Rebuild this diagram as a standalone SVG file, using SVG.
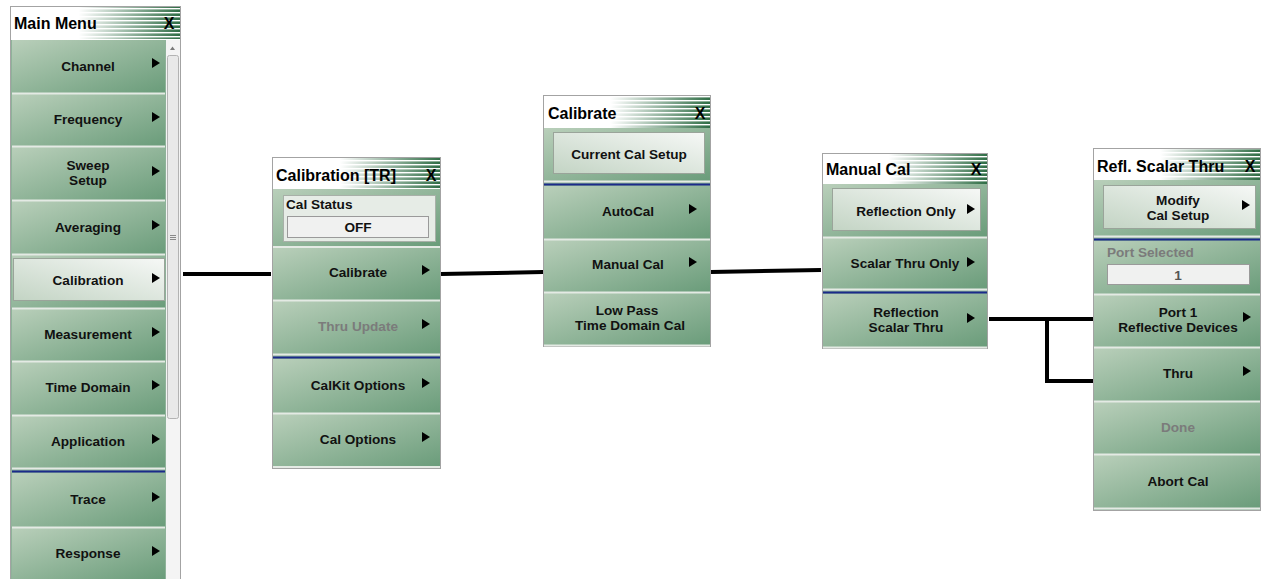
<svg xmlns="http://www.w3.org/2000/svg" xmlns:xlink="http://www.w3.org/1999/xlink" width="1263" height="579" viewBox="0 0 1263 579">
<defs>
<linearGradient id="bg" x1="0" y1="0" x2="1" y2="1">
<stop offset="0" stop-color="#b9cfba"/>
<stop offset="1" stop-color="#6a9c7a"/>
</linearGradient>
<linearGradient id="hl" x1="0" y1="1" x2="1" y2="0">
<stop offset="0" stop-color="#c3d4c4"/>
<stop offset="1" stop-color="#f6f8f6"/>
</linearGradient>
<linearGradient id="hg" x1="0" y1="0" x2="1" y2="0">
<stop offset="0" stop-color="#ffffff"/>
<stop offset="0.4" stop-color="#ffffff"/>
<stop offset="1" stop-color="#2f6d45"/>
</linearGradient>
<pattern id="st" patternUnits="userSpaceOnUse" width="20" height="4">
<rect x="0" y="0" width="20" height="1.4" fill="#ffffff"/>
</pattern>
<path id="arr" d="M0,-5 L8,0 L0,5Z" fill="#000"/>
<style>
.frame{fill:#ffffff;stroke:#a3a3a3;stroke-width:1}
.body{fill:#8fb39a}
.btn{fill:url(#bg)}
.hlb{fill:url(#hl);stroke:#9aa49a;stroke-width:1}
.hdr{fill:url(#hg)}
.hst{fill:url(#st)}
.sep{stroke:#e4eae4;stroke-width:2}
.blue{stroke:#1b2a8a;stroke-width:2}
.t{font-family:"Liberation Sans",Arial,sans-serif;font-weight:bold;font-size:13.6px;fill:#111;text-anchor:middle}
.ts{text-anchor:start}
.dis{fill:#7b7b7b}
.ttl{font-family:"Liberation Sans",Arial,sans-serif;font-weight:bold;font-size:16px;fill:#000}
.x{text-anchor:middle}
.fld{fill:#f0f1f0;stroke:#9a9a9a;stroke-width:1}
.box{fill:#e6ece6;stroke:#a8b0a8;stroke-width:1}
.conn{stroke:#000;stroke-width:4;fill:none}
</style>
</defs>
<rect width="1263" height="579" fill="#ffffff"/>

<g id="connectors">
<path class="conn" d="M183,274 H271"/>
<path class="conn" d="M441,274 L543,272"/>
<path class="conn" d="M711,272 L821,270"/>
<path class="conn" d="M989,319 H1093"/>
<path class="conn" d="M1047,319 V381 H1094"/>
</g>

<g id="main-menu">
<rect class="frame" x="10.5" y="6.5" width="170" height="573"/>
<rect class="hdr" x="11" y="7" width="169" height="32"/>
<rect class="hst" x="11" y="7" width="169" height="32"/>
<text class="ttl" x="14" y="29">Main Menu</text>
<text class="ttl x" x="169" y="29">X</text>
<rect class="body" x="11" y="40" width="155" height="539"/>
<rect class="btn" x="12" y="40" width="153" height="53"/>
<rect class="btn" x="12" y="94" width="153" height="52"/>
<rect class="btn" x="12" y="147" width="153" height="53"/>
<rect class="btn" x="12" y="201" width="153" height="53"/>
<rect class="btn" x="12" y="255" width="153" height="53"/>
<rect class="hlb" x="13.5" y="258.5" width="151" height="42"/>
<rect class="btn" x="12" y="309" width="153" height="52"/>
<rect class="btn" x="12" y="362" width="153" height="53"/>
<rect class="btn" x="12" y="416" width="153" height="52"/>
<rect class="btn" x="12" y="473" width="153" height="54"/>
<rect class="btn" x="12" y="528" width="153" height="51"/>
<g>
<line class="sep" x1="12" y1="93.5" x2="165" y2="93.5"/>
<line class="sep" x1="12" y1="146.5" x2="165" y2="146.5"/>
<line class="sep" x1="12" y1="200.5" x2="165" y2="200.5"/>
<line class="sep" x1="12" y1="254.5" x2="165" y2="254.5"/>
<line class="sep" x1="12" y1="308.5" x2="165" y2="308.5"/>
<line class="sep" x1="12" y1="361.5" x2="165" y2="361.5"/>
<line class="sep" x1="12" y1="415.5" x2="165" y2="415.5"/>
<line class="sep" x1="12" y1="468.5" x2="165" y2="468.5"/>
<line class="blue" x1="12" y1="471.5" x2="165" y2="471.5"/>
<line class="sep" x1="12" y1="527.5" x2="165" y2="527.5"/>
</g>
<text class="t" x="88" y="70.5">Channel</text>
<text class="t" x="88" y="123.5">Frequency</text>
<text class="t" x="88" y="169.5">Sweep</text>
<text class="t" x="88" y="184.5">Setup</text>
<text class="t" x="88" y="231.5">Averaging</text>
<text class="t" x="88" y="284.5">Calibration</text>
<text class="t" x="88" y="338.5">Measurement</text>
<text class="t" x="88" y="391.5">Time Domain</text>
<text class="t" x="88" y="445.5">Application</text>
<text class="t" x="88" y="503.5">Trace</text>
<text class="t" x="88" y="557.5">Response</text>
<use xlink:href="#arr" x="152" y="63"/>
<use xlink:href="#arr" x="152" y="117"/>
<use xlink:href="#arr" x="152" y="171"/>
<use xlink:href="#arr" x="152" y="225"/>
<use xlink:href="#arr" x="152" y="278"/>
<use xlink:href="#arr" x="152" y="332"/>
<use xlink:href="#arr" x="152" y="385"/>
<use xlink:href="#arr" x="152" y="439"/>
<use xlink:href="#arr" x="152" y="497"/>
<use xlink:href="#arr" x="152" y="551"/>
<g id="scrollbar">
<rect x="166" y="40" width="14" height="539" fill="#f4f4f4"/>
<path d="M170,50 L172.5,46.5 L175,50Z" fill="#7a7a7a"/>
<rect x="167.5" y="55.5" width="11" height="363" rx="2" fill="#e9e9e9" stroke="#b3b3b3"/>
<line x1="170" y1="235.5" x2="176" y2="235.5" stroke="#8a8a8a"/>
<line x1="170" y1="237.5" x2="176" y2="237.5" stroke="#8a8a8a"/>
<line x1="170" y1="239.5" x2="176" y2="239.5" stroke="#8a8a8a"/>
</g>
</g>

<g id="calibration-tr">
<rect class="frame" x="272.5" y="157.5" width="168" height="311"/>
<rect class="hdr" x="273" y="158" width="167" height="30"/>
<rect class="hst" x="273" y="158" width="167" height="30"/>
<text class="ttl" x="276" y="181">Calibration [TR]</text>
<text class="ttl x" x="431" y="181">X</text>
<rect class="body" x="273" y="189" width="167" height="279"/>
<rect class="btn" x="273" y="189" width="167" height="57"/>
<rect class="box" x="283.5" y="195.5" width="152" height="46"/>
<text class="t ts" x="286" y="209">Cal Status</text>
<rect class="fld" x="287.5" y="216.5" width="141" height="21"/>
<text class="t" x="358" y="232">OFF</text>
<rect class="btn" x="273" y="248" width="167" height="52"/>
<rect class="btn" x="273" y="301" width="167" height="53"/>
<rect class="btn" x="273" y="359" width="167" height="54"/>
<rect class="btn" x="273" y="414" width="167" height="53"/>
<line class="sep" x1="273" y1="247" x2="440" y2="247"/>
<line class="sep" x1="273" y1="300.5" x2="440" y2="300.5"/>
<line class="sep" x1="273" y1="354.5" x2="440" y2="354.5"/>
<line class="blue" x1="273" y1="357.5" x2="440" y2="357.5"/>
<line class="sep" x1="273" y1="413.5" x2="440" y2="413.5"/>
<line class="sep" x1="273" y1="467" x2="440" y2="467"/>
<text class="t" x="358" y="276.5">Calibrate</text>
<text class="t dis" x="358" y="330.5">Thru Update</text>
<text class="t" x="358" y="389.5">CalKit Options</text>
<text class="t" x="358" y="443.5">Cal Options</text>
<use xlink:href="#arr" x="422" y="270"/>
<use xlink:href="#arr" x="422" y="324"/>
<use xlink:href="#arr" x="422" y="383"/>
<use xlink:href="#arr" x="422" y="437"/>
</g>

<g id="calibrate">
<rect class="frame" x="543.5" y="95.5" width="167" height="251"/>
<rect class="hdr" x="544" y="96" width="166" height="32"/>
<rect class="hst" x="544" y="96" width="166" height="32"/>
<text class="ttl" x="548" y="119">Calibrate</text>
<text class="ttl x" x="700" y="119">X</text>
<rect class="body" x="544" y="128" width="166" height="218"/>
<rect class="btn" x="544" y="128" width="166" height="53"/>
<rect class="hlb" x="553.5" y="132.5" width="151" height="41"/>
<text class="t" x="629" y="158.5">Current Cal Setup</text>
<rect class="btn" x="544" y="186" width="166" height="53"/>
<rect class="btn" x="544" y="240" width="166" height="52"/>
<rect class="btn" x="544" y="293" width="166" height="52"/>
<line class="sep" x1="544" y1="181.5" x2="710" y2="181.5"/>
<line class="blue" x1="544" y1="184.5" x2="710" y2="184.5"/>
<line class="sep" x1="544" y1="239.5" x2="710" y2="239.5"/>
<line class="sep" x1="544" y1="292.5" x2="710" y2="292.5"/>
<line class="sep" x1="544" y1="345.5" x2="710" y2="345.5"/>
<text class="t" x="628" y="215.5">AutoCal</text>
<text class="t" x="628" y="268.5">Manual Cal</text>
<text class="t" x="627" y="314.5">Low Pass</text>
<text class="t" x="630" y="329.5">Time Domain Cal</text>
<use xlink:href="#arr" x="689" y="209"/>
<use xlink:href="#arr" x="689" y="262"/>
</g>

<g id="manual-cal">
<rect class="frame" x="822.5" y="153.5" width="165" height="195"/>
<rect class="hdr" x="823" y="154" width="164" height="30"/>
<rect class="hst" x="823" y="154" width="164" height="30"/>
<text class="ttl" x="826" y="175">Manual Cal</text>
<text class="ttl x" x="976" y="175">X</text>
<rect class="body" x="823" y="184" width="164" height="164"/>
<rect class="btn" x="823" y="184" width="164" height="53"/>
<rect class="hlb" x="832.5" y="188.5" width="148" height="42"/>
<rect class="btn" x="823" y="238" width="164" height="51"/>
<rect class="btn" x="823" y="294" width="164" height="53"/>
<line class="sep" x1="823" y1="237.5" x2="987" y2="237.5"/>
<line class="sep" x1="823" y1="289.5" x2="987" y2="289.5"/>
<line class="blue" x1="823" y1="292.5" x2="987" y2="292.5"/>
<line class="sep" x1="823" y1="347.5" x2="987" y2="347.5"/>
<text class="t" x="906" y="215.5">Reflection Only</text>
<text class="t" x="905" y="267.5">Scalar Thru Only</text>
<text class="t" x="906" y="316.5">Reflection</text>
<text class="t" x="906" y="331.5">Scalar Thru</text>
<use xlink:href="#arr" x="967" y="209"/>
<use xlink:href="#arr" x="967" y="262"/>
<use xlink:href="#arr" x="967" y="318"/>
</g>

<g id="refl-scalar-thru">
<rect class="frame" x="1093.5" y="148.5" width="167" height="362"/>
<rect class="hdr" x="1094" y="149" width="166" height="31"/>
<rect class="hst" x="1094" y="149" width="166" height="31"/>
<text class="ttl" x="1097" y="172">Refl. Scalar Thru</text>
<text class="ttl x" x="1250" y="172">X</text>
<rect class="body" x="1094" y="180" width="166" height="330"/>
<rect class="btn" x="1094" y="180" width="166" height="56"/>
<rect class="hlb" x="1103.5" y="185.5" width="152" height="43"/>
<text class="t" x="1178" y="204.5">Modify</text>
<text class="t" x="1178" y="219.5">Cal Setup</text>
<use xlink:href="#arr" x="1242" y="205"/>
<rect class="btn" x="1094" y="241" width="166" height="53"/>
<text class="t ts dis" x="1107" y="256.5">Port Selected</text>
<rect class="fld" x="1107.5" y="264.5" width="142" height="20"/>
<text class="t" x="1178" y="280" style="fill:#555">1</text>
<rect class="btn" x="1094" y="295" width="166" height="52"/>
<rect class="btn" x="1094" y="348" width="166" height="53"/>
<rect class="btn" x="1094" y="402" width="166" height="52"/>
<rect class="btn" x="1094" y="455" width="166" height="53"/>
<line class="sep" x1="1094" y1="236.5" x2="1260" y2="236.5"/>
<line class="blue" x1="1094" y1="239.5" x2="1260" y2="239.5"/>
<line class="sep" x1="1094" y1="294.5" x2="1260" y2="294.5"/>
<line class="sep" x1="1094" y1="347.5" x2="1260" y2="347.5"/>
<line class="sep" x1="1094" y1="401.5" x2="1260" y2="401.5"/>
<line class="sep" x1="1094" y1="454.5" x2="1260" y2="454.5"/>
<line class="sep" x1="1094" y1="508.5" x2="1260" y2="508.5"/>
<text class="t" x="1178" y="316.5">Port 1</text>
<text class="t" x="1178" y="331.5">Reflective Devices</text>
<use xlink:href="#arr" x="1243" y="317"/>
<text class="t" x="1178" y="377.5">Thru</text>
<use xlink:href="#arr" x="1243" y="371"/>
<text class="t dis" x="1178" y="431.5">Done</text>
<text class="t" x="1178" y="485.5">Abort Cal</text>
</g>
</svg>
